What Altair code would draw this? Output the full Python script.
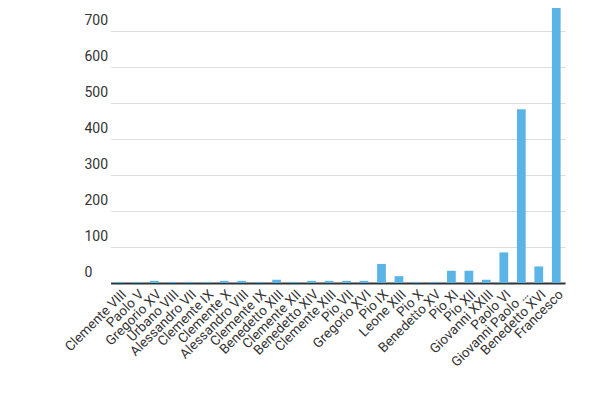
import altair as alt
import pandas as pd

names = ["Clemente VIII", "Paolo V", "Gregorio XV", "Urbano VIII", "Alessandro VII",
         "Clemente IX", "Clemente X", "Alessandro VIII", "Clemente IX", "Benedetto XIII",
         "Clemente XII", "Benedetto XIV", "Clemente XIII", "Pio VII", "Gregorio XVI",
         "Pio IX", "Leone XIII", "Pio X", "Benedetto XV", "Pio XI", "Pio XII",
         "Giovanni XXIII", "Paolo VI", "Giovanni Paolo …", "Benedetto XVI", "Francesco"]
values = [3, 3, 6, 3, 3, 3, 6, 6, 3, 9, 3, 6, 6, 6, 6, 53, 19, 3, 3, 34, 34, 9, 85, 483, 46, 900]

df = pd.DataFrame({"idx": list(range(len(names))), "name": names, "value": values})

label_arr = "[" + ",".join("'" + n + "'" for n in names) + "]"

chart = alt.Chart(df).mark_bar(color="#5AB4E5", clip=True).encode(
    x=alt.X("idx:O", sort=None,
            scale=alt.Scale(paddingInner=0.5, paddingOuter=0.25, range=[26.6, 481]),
            axis=alt.Axis(title=None, labelAngle=-45, labelExpr=label_arr + "[datum.value]",
                          labelFont="Roboto", labelFontSize=13.5, labelColor="#333",
                          ticks=False, domain=True, domainColor="#333", domainWidth=2,
                          labelPadding=4, grid=False, labelOverlap=False)),
    y=alt.Y("value:Q",
            scale=alt.Scale(domain=[0, 764], nice=False, zero=True),
            axis=alt.Axis(title=None, values=[0, 100, 200, 300, 400, 500, 600, 700],
                          labelAlign="left", labelBaseline="bottom", labelOffset=-4,
                          labelPadding=0, ticks=False, domain=False,
                          labelFont="Roboto", labelFontSize=14, labelColor="#333",
                          gridColor="#dddddd", gridWidth=1)),
).properties(
    width=483, height=275,
    autosize=alt.AutoSizeParams(type="none"),
    padding={"left": 76, "top": 0, "right": 25, "bottom": 110},
).configure_view(stroke=None)

chart.save("out.html", embed_options={"renderer": "svg", "actions": False})
